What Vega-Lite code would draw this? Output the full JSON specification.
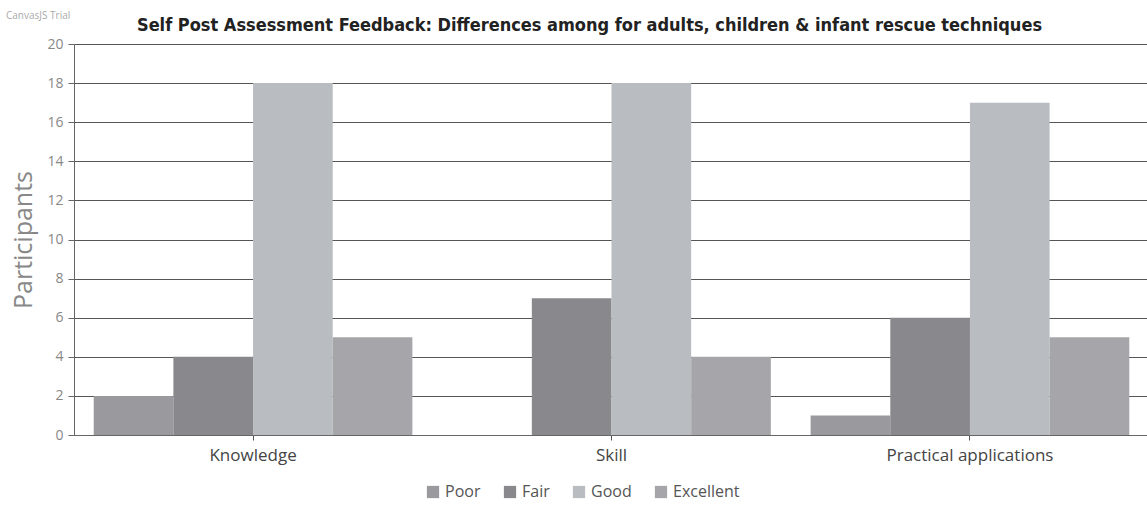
{
  "$schema": "https://vega.github.io/schema/vega-lite/v6.json",
  "width": 1075,
  "height": 391,
  "autosize": {"type": "none"},
  "padding": {"left": 74, "top": 44, "right": 0, "bottom": 70},
  "background": "white",
  "title": {
    "text": "CanvasJS Trial",
    "fontSize": 10,
    "fontWeight": "normal",
    "color": "#aaaaaa",
    "anchor": "start",
    "frame": "bounds",
    "offset": -5,
    "dx": -6
  },
  "data": {
    "values": [
      {"category": "Knowledge", "rating": "Poor", "participants": 2},
      {"category": "Knowledge", "rating": "Fair", "participants": 4},
      {"category": "Knowledge", "rating": "Good", "participants": 18},
      {"category": "Knowledge", "rating": "Excellent", "participants": 5},
      {"category": "Skill", "rating": "Poor", "participants": 0},
      {"category": "Skill", "rating": "Fair", "participants": 7},
      {"category": "Skill", "rating": "Good", "participants": 18},
      {"category": "Skill", "rating": "Excellent", "participants": 4},
      {"category": "Practical applications", "rating": "Poor", "participants": 1},
      {"category": "Practical applications", "rating": "Fair", "participants": 6},
      {"category": "Practical applications", "rating": "Good", "participants": 17},
      {"category": "Practical applications", "rating": "Excellent", "participants": 5}
    ]
  },
  "config": {
    "view": {"stroke": null},
    "font": "Open Sans, DejaVu Sans, sans-serif"
  },
  "resolve": {"axis": {"x": "independent"}},
  "layer": [
    {
      "mark": {"type": "bar"},
      "encoding": {
        "x": {
          "field": "category",
          "type": "nominal",
          "sort": ["Knowledge", "Skill", "Practical applications"],
          "scale": {"paddingInner": 0.111, "paddingOuter": 0.055},
          "axis": {
            "title": null,
            "labelAngle": 0,
            "labelFontSize": 17,
            "labelColor": "#444444",
            "labelPadding": 7,
            "tickSize": 5,
            "tickColor": "#555555",
            "domainColor": "#666666",
            "grid": false
          }
        },
        "xOffset": {
          "field": "rating",
          "type": "nominal",
          "sort": ["Poor", "Fair", "Good", "Excellent"],
          "scale": {"paddingInner": 0, "paddingOuter": 0}
        },
        "y": {
          "field": "participants",
          "type": "quantitative",
          "scale": {"domain": [0, 20]},
          "axis": {
            "title": "Participants",
            "titleFontSize": 25,
            "titleFontWeight": "normal",
            "titleColor": "#888888",
            "titlePadding": 10,
            "values": [0, 2, 4, 6, 8, 10, 12, 14, 16, 18, 20],
            "labelFontSize": 14,
            "labelColor": "#888888",
            "labelPadding": 5,
            "labelOverlap": false,
            "tickSize": 6,
            "tickColor": "#666666",
            "domainColor": "#666666",
            "gridColor": "#555555",
            "gridWidth": 1
          }
        },
        "color": {
          "field": "rating",
          "type": "nominal",
          "sort": ["Poor", "Fair", "Good", "Excellent"],
          "scale": {
            "domain": ["Poor", "Fair", "Good", "Excellent"],
            "range": ["#9a9a9e", "#88888d", "#b9bcc0", "#a6a6aa"]
          },
          "legend": {
            "title": null,
            "orient": "none",
            "legendX": 351,
            "legendY": 440,
            "direction": "horizontal",
            "symbolType": "square",
            "symbolSize": 150,
            "symbolStrokeWidth": 0,
            "labelFontSize": 16,
            "labelColor": "#555555",
            "columnPadding": 21
          }
        }
      }
    },
    {
      "mark": {"type": "bar", "opacity": 0},
      "encoding": {
        "x": {
          "field": "category",
          "type": "nominal",
          "sort": ["Knowledge", "Skill", "Practical applications"],
          "axis": {
            "orient": "top",
            "title": "Self Post Assessment Feedback: Differences among for adults, children & infant rescue techniques",
            "titleFont": "Liberation Sans Narrow, DejaVu Sans Condensed, sans-serif",
            "titleFontSize": 18,
            "titleFontWeight": "bold",
            "titleColor": "#222222",
            "titleAnchor": null,
            "titleAlign": "center",
            "titleBaseline": "alphabetic",
            "titleX": 515,
            "titleY": -14,
            "labels": false,
            "ticks": false,
            "domain": false,
            "grid": false
          }
        }
      }
    }
  ]
}
